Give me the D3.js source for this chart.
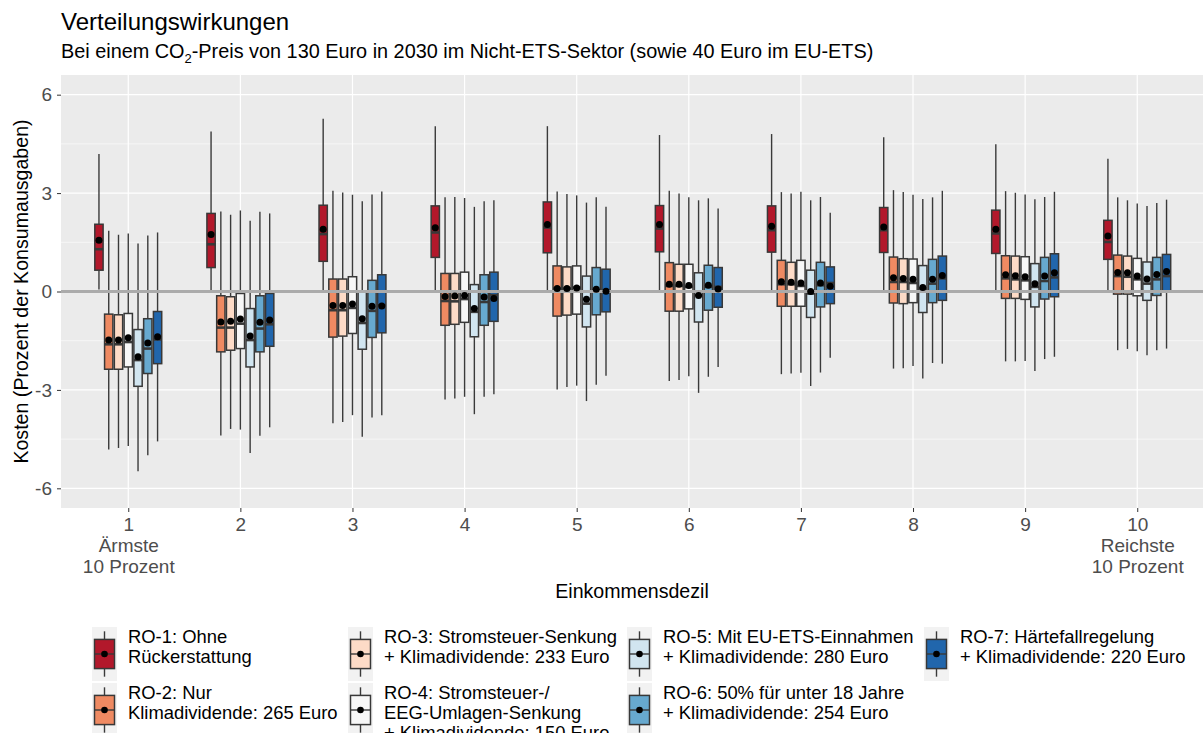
<!DOCTYPE html>
<html><head><meta charset="utf-8">
<script src="https://cdn.jsdelivr.net/npm/d3@7"></script>
<style>
body{margin:0;background:#fff;}
svg{display:block;font-family:"Liberation Sans",Arial,sans-serif;}
</style></head><body>
<svg id="chart" width="1203" height="733"></svg>
<script>
// ---- data ----
const deciles = ["1","2","3","4","5","6","7","8","9","10"];
const decileLabels = [["1","Ärmste","10 Prozent"],["2"],["3"],["4"],["5"],["6"],["7"],["8"],["9"],["10","Reichste","10 Prozent"]];
const seriesNames = ["RO-1","RO-2","RO-3","RO-4","RO-5","RO-6","RO-7"];
const seriesColors = ["#B2182B","#EF8A62","#FDDBC7","#F7F7F7","#D1E5F0","#67A9CF","#2166AC"];
const legendLabels = [
  ["RO-1: Ohne","Rückerstattung"],
  ["RO-2: Nur","Klimadividende: 265 Euro"],
  ["RO-3: Stromsteuer-Senkung","+ Klimadividende: 233 Euro"],
  ["RO-4: Stromsteuer-/","EEG-Umlagen-Senkung","+ Klimadividende: 150 Euro"],
  ["RO-5: Mit EU-ETS-Einnahmen","+ Klimadividende: 280 Euro"],
  ["RO-6: 50% für unter 18 Jahre","+ Klimadividende: 254 Euro"],
  ["RO-7: Härtefallregelung","+ Klimadividende: 220 Euro"]
];
const yTicks = [-6,-3,0,3,6];
const yMinor = [-4.5,-1.5,1.5,4.5];
// each row: [lower whisker, q1, median, q3, upper whisker, mean] per decile
const RO1 = [[0.06,0.65,1.29,2.05,4.19,1.56],[0.02,0.73,1.44,2.38,4.88,1.74],[0.04,0.92,1.75,2.63,5.27,1.90],[0.04,1.04,1.80,2.61,5.04,1.94],[0.04,1.18,1.95,2.73,5.04,2.04],[0.02,1.21,1.92,2.62,4.77,2.04],[0.02,1.20,1.87,2.61,4.80,1.99],[0.02,1.19,1.87,2.56,4.70,1.97],[0.02,1.16,1.77,2.48,4.49,1.90],[0.02,0.98,1.51,2.17,4.05,1.69]];
const RO2 = [[-4.82,-2.37,-1.61,-0.69,1.85,-1.48],[-4.39,-1.84,-1.10,-0.13,2.44,-0.93],[-4.02,-1.39,-0.57,0.38,3.07,-0.43],[-3.29,-1.03,-0.29,0.55,2.87,-0.15],[-2.99,-0.75,0.09,0.78,3.05,0.09],[-2.73,-0.60,0.17,0.88,3.07,0.22],[-2.52,-0.45,0.22,0.95,3.03,0.30],[-2.35,-0.35,0.29,1.05,3.09,0.42],[-2.13,-0.21,0.40,1.09,3.06,0.51],[-1.79,-0.08,0.47,1.11,2.87,0.58]];
const RO3 = [[-4.77,-2.37,-1.61,-0.71,1.73,-1.48],[-4.19,-1.79,-1.10,-0.16,2.34,-0.91],[-3.98,-1.36,-0.57,0.38,3.02,-0.43],[-3.26,-1.00,-0.30,0.55,2.88,-0.14],[-2.91,-0.72,0.09,0.75,2.97,0.09],[-2.70,-0.60,0.17,0.83,2.99,0.22],[-2.50,-0.45,0.22,0.89,2.99,0.28],[-2.34,-0.37,0.29,1.00,3.03,0.40],[-2.13,-0.21,0.37,1.08,3.01,0.48],[-1.75,-0.08,0.45,1.08,2.78,0.57]];
const RO4 = [[-4.71,-2.30,-1.54,-0.67,1.77,-1.41],[-4.21,-1.74,-0.98,-0.06,2.47,-0.84],[-3.77,-1.28,-0.50,0.45,2.95,-0.38],[-3.21,-0.94,-0.23,0.59,2.85,-0.12],[-2.87,-0.69,0.12,0.78,2.93,0.11],[-2.58,-0.53,0.14,0.83,2.87,0.18],[-2.48,-0.45,0.17,0.95,3.04,0.26],[-2.27,-0.34,0.26,0.99,2.95,0.37],[-2.12,-0.24,0.34,1.06,2.96,0.45],[-1.82,-0.13,0.37,1.01,2.68,0.47]];
const RO5 = [[-5.48,-2.89,-2.09,-1.16,1.46,-1.99],[-4.92,-2.30,-1.48,-0.52,2.16,-1.36],[-4.43,-1.76,-0.96,0.02,2.75,-0.83],[-3.74,-1.38,-0.62,0.21,2.58,-0.52],[-3.34,-1.08,-0.37,0.47,2.71,-0.24],[-3.09,-0.93,-0.11,0.57,2.78,-0.12],[-2.88,-0.79,-0.06,0.65,2.78,0.00],[-2.65,-0.64,0.09,0.79,2.82,0.12],[-2.42,-0.47,0.14,0.85,2.81,0.24],[-1.94,-0.27,0.24,0.90,2.61,0.38]];
const RO6 = [[-4.99,-2.50,-1.74,-0.83,1.71,-1.57],[-4.40,-1.84,-1.13,-0.13,2.43,-0.94],[-3.84,-1.40,-0.59,0.34,2.96,-0.45],[-3.21,-1.03,-0.32,0.51,2.75,-0.17],[-2.84,-0.71,0.04,0.73,2.87,0.07],[-2.60,-0.57,0.14,0.80,2.84,0.19],[-2.47,-0.47,0.19,0.89,2.88,0.26],[-2.18,-0.34,0.24,0.98,2.87,0.37],[-2.06,-0.23,0.32,1.04,2.88,0.47],[-1.79,-0.12,0.37,1.04,2.70,0.52]];
const RO7 = [[-4.57,-2.20,-1.46,-0.61,1.80,-1.38],[-4.14,-1.67,-1.00,-0.06,2.38,-0.87],[-3.77,-1.26,-0.42,0.51,3.05,-0.44],[-3.13,-0.91,-0.11,0.59,2.78,-0.21],[-2.57,-0.62,0.01,0.68,2.58,0.01],[-2.30,-0.48,0.14,0.73,2.53,0.08],[-2.02,-0.37,0.26,0.75,2.40,0.16],[-2.20,-0.27,0.40,1.08,3.07,0.49],[-1.99,-0.16,0.43,1.15,3.04,0.57],[-1.74,0.02,0.47,1.13,2.80,0.61]];
const seriesData = [RO1,RO2,RO3,RO4,RO5,RO6,RO7];

// ---- layout ----
const svg = d3.select("#chart");
const FONT = "Liberation Sans, Arial, sans-serif";
const P = {left:61, top:75, right:1204.5, bottom:508};

const x = d3.scalePoint().domain(deciles).range([P.left, P.right]).padding(0.6);
const halfGroup = x.step()*0.305;
const xi = d3.scaleBand().domain(seriesNames).range([-halfGroup, halfGroup]).paddingInner(0.15).paddingOuter(0.075);
const y = d3.scaleLinear().domain([-6.6, 6.6]).range([P.bottom, P.top]);

// title
svg.append("text").attr("x",61).attr("y",30).attr("font-size",24).attr("fill","#000").text("Verteilungswirkungen");
const sub = svg.append("text").attr("x",61).attr("y",58).attr("font-size",19.85).attr("fill","#000");
sub.append("tspan").text("Bei einem CO");
sub.append("tspan").attr("font-size",13).attr("dy",5).text("2");
sub.append("tspan").attr("dy",-5).text("-Preis von 130 Euro in 2030 im Nicht-ETS-Sektor (sowie 40 Euro im EU-ETS)");

// panel
svg.append("rect").attr("x",P.left).attr("y",P.top).attr("width",P.right-P.left).attr("height",P.bottom-P.top).attr("fill","#EBEBEB");
const grid = svg.append("g");
grid.selectAll(".ymin").data(yMinor).join("line").attr("x1",P.left).attr("x2",P.right)
  .attr("y1",d=>y(d)).attr("y2",d=>y(d)).attr("stroke","#fff").attr("stroke-width",0.6);
grid.selectAll(".ymaj").data(yTicks).join("line").attr("x1",P.left).attr("x2",P.right)
  .attr("y1",d=>y(d)).attr("y2",d=>y(d)).attr("stroke","#fff").attr("stroke-width",1.2);
grid.selectAll(".xmaj").data(deciles).join("line").attr("y1",P.top).attr("y2",P.bottom)
  .attr("x1",d=>x(d)).attr("x2",d=>x(d)).attr("stroke","#fff").attr("stroke-width",1.2);

// boxes
const flat = [];
seriesData.forEach((arr,si)=>arr.forEach((v,di)=>flat.push({s:seriesNames[si],si,d:deciles[di],lo:v[0],q1:v[1],med:v[2],q3:v[3],hi:v[4],mean:v[5]})));
const bw = xi.bandwidth();
const cx = o => x(o.d) + xi(o.s) + bw/2;
const gb = svg.append("g");
gb.selectAll(".wh").data(flat).join("line").attr("x1",cx).attr("x2",cx)
  .attr("y1",d=>y(d.hi)).attr("y2",d=>y(d.lo)).attr("stroke","#3a3a3a").attr("stroke-width",1.4);
gb.selectAll(".bx").data(flat).join("rect").attr("x",d=>cx(d)-bw/2).attr("width",bw)
  .attr("y",d=>y(d.q3)).attr("height",d=>y(d.q1)-y(d.q3))
  .attr("fill",d=>seriesColors[d.si]).attr("stroke","#383838").attr("stroke-width",1.5);
gb.selectAll(".md").data(flat).join("line").attr("x1",d=>cx(d)-bw/2).attr("x2",d=>cx(d)+bw/2)
  .attr("y1",d=>y(d.med)).attr("y2",d=>y(d.med)).attr("stroke","#383838").attr("stroke-width",2.6);

// zero line
svg.append("line").attr("x1",P.left).attr("x2",P.right).attr("y1",y(0)).attr("y2",y(0))
  .attr("stroke","#ABABAB").attr("stroke-width",2.8);

// means
svg.append("g").selectAll("circle").data(flat).join("circle").attr("cx",cx).attr("cy",d=>y(d.mean))
  .attr("r",3.5).attr("fill","#000");

// axes
const ya = svg.append("g").attr("transform",`translate(${P.left},0)`)
  .call(d3.axisLeft(y).tickValues(yTicks).tickSize(4).tickPadding(5).tickFormat(d=>String(d)));
ya.select(".domain").remove();
ya.selectAll("line").attr("stroke","#333");
ya.selectAll("text").attr("font-size",19).attr("fill","#4D4D4D").attr("font-family",FONT);

const xa = svg.append("g").attr("transform",`translate(0,${P.bottom})`)
  .call(d3.axisBottom(x).tickSize(4).tickPadding(4));
xa.select(".domain").remove();
xa.selectAll("line").attr("stroke","#333");
xa.selectAll("text").each(function(d,i){
  const t = d3.select(this).text("").attr("font-size",19).attr("fill","#4D4D4D")
    .attr("font-family",FONT).attr("dy",null).attr("y",23);
  decileLabels[i].forEach((s,k)=>t.append("tspan").attr("x",0).attr("dy",k===0?0:21).text(s));
});

svg.append("text").attr("x",(P.left+1203)/2).attr("y",598).attr("text-anchor","middle")
  .attr("font-size",19.6).attr("fill","#000").text("Einkommensdezil");
svg.append("text").attr("transform",`translate(28,${y(0)}) rotate(-90)`).attr("text-anchor","middle")
  .attr("font-size",19.6).attr("fill","#000").text("Kosten (Prozent der Konsumausgaben)");

// legend
const colX = [92, 348, 627, 924];
const rowY = [627, 683];
const kW = 25, kH = 54;
seriesNames.forEach((s,i)=>{
  const col = Math.floor(i/2), row = i%2;
  const g = svg.append("g").attr("transform",`translate(${colX[col]},${rowY[row]})`);
  g.append("rect").attr("width",kW).attr("height",kH).attr("fill","#F2F2F2");
  g.append("line").attr("x1",kW/2).attr("x2",kW/2).attr("y1",kH*0.08).attr("y2",kH*0.92).attr("stroke","#3a3a3a").attr("stroke-width",1.4);
  g.append("rect").attr("x",kW*0.1).attr("width",kW*0.8).attr("y",kH*0.23).attr("height",kH*0.54)
    .attr("fill",seriesColors[i]).attr("stroke","#383838").attr("stroke-width",1.5);
  g.append("line").attr("x1",kW*0.1).attr("x2",kW*0.9).attr("y1",kH/2).attr("y2",kH/2).attr("stroke","#383838").attr("stroke-width",1.4);
  g.append("circle").attr("cx",kW/2).attr("cy",kH/2).attr("r",3.3).attr("fill","#000");
  const t = g.append("text").attr("x",36).attr("y",15.5).attr("font-size",18.4).attr("fill","#000");
  legendLabels[i].forEach((l,k)=>t.append("tspan").attr("x",36).attr("dy",k===0?0:20).text(l));
});
</script>
</body></html>
